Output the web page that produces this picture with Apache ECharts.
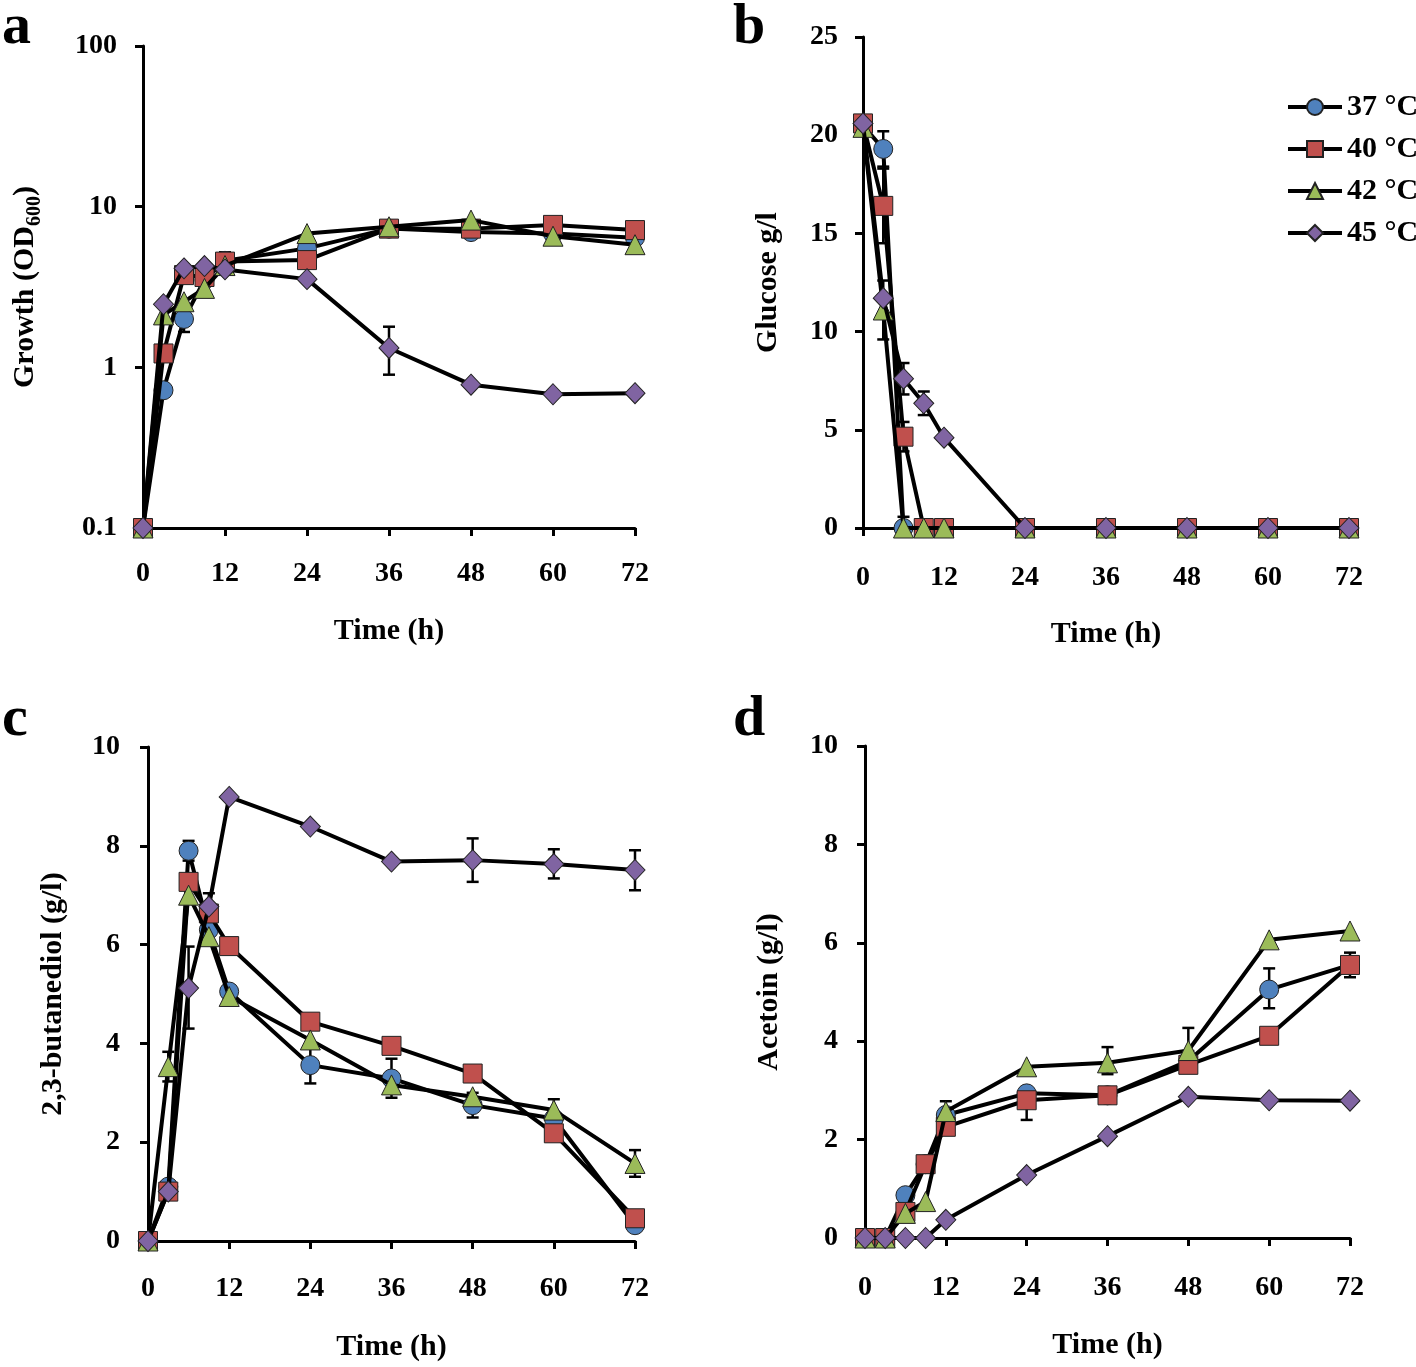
<!DOCTYPE html>
<html>
<head>
<meta charset="utf-8">
<script src="https://cdn.jsdelivr.net/npm/echarts@6/dist/echarts.min.js"></script>
<style>html,body{margin:0;padding:0;background:#fff;}#c{width:1416px;height:1367px;}</style>
</head>
<body>
<div id="c"></div>
<script>
// ---- data ----
const time = [0, 3, 6, 9, 12, 24, 36, 48, 60, 72];
const tempNames = ['37 °C', '40 °C', '42 °C', '45 °C'];
const xTicks = [0, 12, 24, 36, 48, 60, 72];

// a: growth OD600 (log)
const growth37 = [0.1, 0.72, 2.0, 3.5, 4.6, 5.5, 7.3, 6.95, 6.8, 6.4];
const growth40 = [0.1, 1.22, 3.75, 3.65, 4.55, 4.65, 7.3, 7.3, 7.7, 7.15];
const growth42 = [0.1, 2.12, 2.56, 3.1, 4.3, 6.8, 7.5, 8.25, 6.55, 5.8];
const growth45 = [0.1, 2.47, 4.13, 4.27, 4.07, 3.54, 1.32, 0.78, 0.68, 0.69];
// b: glucose g/l
const glucose37 = [20.5, 19.3, 0, 0, 0, 0, 0, 0, 0, 0];
const glucose40 = [20.6, 16.4, 4.65, 0, 0, 0, 0, 0, 0, 0];
const glucose42 = [20.4, 11.1, 0, 0, 0, 0, 0, 0, 0, 0];
const glucose45 = [20.6, 11.7, 7.6, 6.35, 4.6, 0, 0, 0, 0, 0];
// c: 2,3-butanediol g/l
const bdo37 = [0, 1.1, 7.9, 6.3, 5.05, 3.56, 3.29, 2.75, 2.48, 0.32];
const bdo40 = [0, 1.0, 7.27, 6.63, 5.97, 4.44, 3.95, 3.39, 2.18, 0.46];
const bdo42 = [0, 3.53, 7.0, 6.16, 4.95, 4.07, 3.16, 2.92, 2.65, 1.57];
const bdo45 = [0, 1.0, 5.12, 6.77, 8.99, 8.39, 7.68, 7.71, 7.63, 7.51];
// d: acetoin g/l
const acetoin37 = [0, 0, 0.87, 1.5, 2.5, 2.94, 2.9, 3.6, 5.05, 5.55];
const acetoin40 = [0, 0, 0.53, 1.5, 2.26, 2.8, 2.9, 3.52, 4.11, 5.55];
const acetoin42 = [0, 0, 0.5, 0.74, 2.57, 3.48, 3.56, 3.81, 6.06, 6.24];
const acetoin45 = [0, 0, 0, 0, 0.37, 1.28, 2.07, 2.87, 2.8, 2.79];

// error bars: [time, low, high]
const errA = [[36, 0.9, 1.79], [12, 4.2, 5.2], [6, 1.66, 2.3]];
const errB = [[3, 18.4, 20.2], [3, 14.5, 18.3], [3, 9.6, 12.6], [6, 6.8, 8.4], [9, 5.75, 6.95], [6, 3.9, 5.4], [6, 0, 0.57]];
const errC = [[6, 7.7, 8.1], [6, 4.3, 5.96], [3, 3.23, 3.83], [24, 3.19, 3.93], [36, 2.9, 3.69], [48, 2.5, 3.0],
              [48, 7.27, 8.15], [60, 7.34, 7.93], [72, 7.1, 7.91], [60, 2.43, 2.87], [72, 1.3, 1.84], [9, 6.3, 7.04], [48, 3.3, 3.45]];
const errD = [[60, 4.67, 5.48], [24, 2.4, 3.0], [48, 3.8, 4.27], [36, 3.33, 3.88], [12, 2.4, 2.78], [72, 5.3, 5.8]];

const yTicksA = [0.1, 1, 10, 100];
const yTicksB = [0, 5, 10, 15, 20, 25];
const yTicksCD = [0, 2, 4, 6, 8, 10];

// ---- style ----
const FONT = 'Liberation Serif';
const fills = ['#4f81bd', '#c0504d', '#9bbb59', '#8064a2'];
const symbols = ['circle', 'rect', 'triangle', 'diamond'];
const symSizes = [19, 19, 20, [20, 21]];

const panels = [
  {vals: [growth37, growth40, growth42, growth45], err: errA},
  {vals: [glucose37, glucose40, glucose42, glucose45], err: errB},
  {vals: [bdo37, bdo40, bdo42, bdo45], err: errC},
  {vals: [acetoin37, acetoin40, acetoin42, acetoin45], err: errD}
];

const grids = [
  {left: 143, top: 46, width: 492, height: 482},
  {left: 863, top: 37, width: 486, height: 491},
  {left: 148, top: 747, width: 487, height: 494},
  {left: 865, top: 746, width: 485, height: 492}
];

const axisLineStyle = {show: true, lineStyle: {color: '#000', width: 3}};
const tickStyle = {show: true, inside: false, length: 8, lineStyle: {color: '#000', width: 3}};
const labelBase = {color: '#000', fontFamily: FONT, fontWeight: 'bold', fontSize: 28};
const nameStyle = {color: '#000', fontFamily: FONT, fontWeight: 'bold', fontSize: 30};

const xGaps = [88, 91, 91, 92];
const xMargins = [32, 36, 34, 36];
const xAxes = grids.map((g, i) => ({
  type: 'value', gridIndex: i, min: xTicks[0], max: xTicks[xTicks.length - 1], interval: 12,
  axisLine: axisLineStyle, axisTick: tickStyle, splitLine: {show: false},
  axisLabel: Object.assign({margin: xMargins[i]}, labelBase),
  name: 'Time (h)', nameLocation: 'middle', nameGap: xGaps[i], nameTextStyle: nameStyle
}));

const yAxes = [
  {type: 'log', logBase: 10, gridIndex: 0, min: yTicksA[0], max: yTicksA[yTicksA.length - 1],
   name: 'Growth (OD{s|600})', nameGap: 98,
   nameTextStyle: Object.assign({}, nameStyle, {lineHeight: 40, rich: {s: {fontFamily: FONT, fontWeight: 'bold', fontSize: 20, lineHeight: 20, verticalAlign: 'bottom', color: '#000'}}}),
   axisLabel: Object.assign({margin: 26}, labelBase)},
  {type: 'value', gridIndex: 1, min: yTicksB[0], max: yTicksB[yTicksB.length - 1], interval: 5,
   name: 'Glucose g/l', nameGap: 80, nameTextStyle: nameStyle,
   axisLabel: Object.assign({margin: 25}, labelBase)},
  {type: 'value', gridIndex: 2, min: yTicksCD[0], max: yTicksCD[yTicksCD.length - 1], interval: 2,
   name: '2,3-butanediol (g/l)', nameGap: 80, nameTextStyle: nameStyle,
   axisLabel: Object.assign({margin: 28}, labelBase)},
  {type: 'value', gridIndex: 3, min: yTicksCD[0], max: yTicksCD[yTicksCD.length - 1], interval: 2,
   name: 'Acetoin (g/l)', nameGap: 81, nameTextStyle: nameStyle,
   axisLabel: Object.assign({margin: 27}, labelBase)}
].map(a => Object.assign({
  nameLocation: 'middle', axisLine: axisLineStyle, axisTick: tickStyle, splitLine: {show: false}, minorTick: {show: false}
}, a));

const series = [];
panels.forEach((p, pi) => {
  series.push({
    type: 'custom', xAxisIndex: pi, yAxisIndex: pi, z: 1, silent: true,
    data: p.err,
    renderItem: function (params, api) {
      const x = api.value(0), lo = api.value(1), hi = api.value(2);
      const a = api.coord([x, lo]), b = api.coord([x, hi]);
      const w = 6;
      const st = {stroke: '#000', lineWidth: 2.5};
      return {type: 'group', children: [
        {type: 'line', shape: {x1: a[0], y1: a[1], x2: b[0], y2: b[1]}, style: st},
        {type: 'line', shape: {x1: a[0] - w, y1: a[1], x2: a[0] + w, y2: a[1]}, style: st},
        {type: 'line', shape: {x1: b[0] - w, y1: b[1], x2: b[0] + w, y2: b[1]}, style: st}
      ]};
    }
  });
  p.vals.forEach((vals, si) => {
    series.push({
      type: 'line', name: tempNames[si], xAxisIndex: pi, yAxisIndex: pi, z: 2 + si,
      data: time.map((t, k) => [t, vals[k]]),
      symbol: symbols[si], symbolSize: symSizes[si], showSymbol: true,
      lineStyle: {color: '#000', width: 4},
      itemStyle: {color: fills[si], borderColor: '#222', borderWidth: 1},
      emphasis: {disabled: true}
    });
  });
});

const letterStyle = {fill: '#000', fontFamily: FONT, fontWeight: 'bold', fontSize: 58, textAlign: 'left'};
const letters = [['a', 2, 28], ['b', 733, 28], ['c', 2, 720], ['d', 733, 720]];

const option = {
  animation: false,
  backgroundColor: '#fff',
  grid: grids,
  xAxis: xAxes,
  yAxis: yAxes,
  legend: {
    data: tempNames, orient: 'vertical', left: 1281, top: 87,
    itemWidth: 54, itemHeight: 20, itemGap: 12,
    lineStyle: {width: 4, color: '#000'},
    textStyle: {color: '#000', fontFamily: FONT, fontWeight: 'bold', fontSize: 30}
  },
  graphic: letters.map(l => ({type: 'text', left: l[1], top: l[2] - 29, style: Object.assign({text: l[0]}, letterStyle, {textVerticalAlign: 'top'})})),
  series: series
};

const chart = echarts.init(document.getElementById('c'), null, {renderer: 'canvas'});
chart.setOption(option);
</script>
</body>
</html>
